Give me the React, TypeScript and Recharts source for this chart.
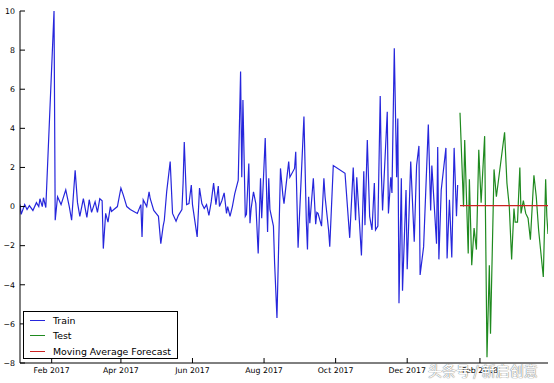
import { LineChart, Line, XAxis, YAxis, Legend } from "recharts";

// days counted from 2017-01-01
const trainDays = [
  4, 5, 8, 10, 12, 15, 18, 20, 21, 23, 24, 26, 33, 34, 36, 39, 43, 46, 48, 51,
  53, 55, 58, 61, 63, 65, 68, 70, 72, 74, 75, 77, 79, 81, 82, 84, 87, 90, 92, 95,
  98, 101, 104, 107, 108, 109, 112, 114, 115, 118, 120, 122, 124, 126, 127, 129,
  132, 134, 137, 139, 142, 143, 144, 146, 148, 150, 151, 155, 157, 159, 161, 163,
  165, 167, 169, 171, 173, 174, 176, 178, 180, 181, 183, 185, 187, 190, 192, 193,
  194, 196, 197, 199, 200, 201, 203, 205, 207, 209, 210, 213, 215, 216, 217, 220,
  221, 223, 226, 228, 229, 233, 234, 238, 239, 241, 246, 248, 249, 250, 251, 254,
  256, 257, 258, 261, 263, 264, 267, 268, 271, 281, 285, 288, 290, 291, 295, 297,
  298, 300, 302, 304, 306, 307, 309, 311, 312, 313, 317, 318, 320, 321, 323, 325,
  326, 327, 329, 330, 333, 334, 337, 340, 342, 344, 345, 348, 352, 354, 355, 359,
  360, 361, 363, 367, 368, 370, 372, 374, 376, 377,
];
const trainValues = [
  0.1, -0.4, 0.1, -0.15, 0.05, -0.2, 0.2, 0.0, 0.4, 0.0, 0.45, -0.05, 10.0, -0.7, 0.5, 0.1, 0.85, 0.0, -0.7, 1.85,
  0.2, -0.5, 0.4, -0.55, 0.35, -0.3, 0.25, -0.3, 0.4, 0.3, -2.15, -0.35, -0.8, 0.0, -0.25, -0.15, 0.0, 0.95, 0.6, 0.0,
  -0.15, -0.25, -0.35, 0.1, -1.55, 0.35, 0.0, 0.75, 0.4, -0.2, -0.35, -0.5, -1.9, -1.0, -0.7, 0.75,
  2.3, -0.35, -0.75, -0.45, -0.15, 1.2, 3.3, 0.1, 0.15, 1.1, 0.1, -1.55, 0.95, 0.15, -0.1, 0.1,
  -0.45, 0.25, 1.2, 0.1, 1.05, 0.0, 0.3, 0.7, -0.35, 0.0, -0.5, 0.0, 0.65, 1.35, 6.9, 1.5,
  5.45, -0.5, -0.4, 2.2, -0.85, -0.1, 0.75, 0.15, -2.4, 1.45, -0.6, 3.5, -1.3, 1.45, -0.15, -1.0,
  -2.9, -5.7, 1.95, 0.6, 0.15, 2.3, 1.5, 1.95, 2.8, -2.1, 4.6, -0.7, -2.2, 0.5, -0.85, 1.45,
  -0.9, -0.3, -0.35, -1.0, 1.45, 0.5, -1.2, -2.05, 2.1, 1.7, -1.6, 2.0, -0.7, 1.5, -2.5, 1.8,
  -0.95, 3.4, -0.5, -1.2, 1.2, -1.2, -1.0, 5.65, 1.7, -0.2, 4.85, -0.35, 1.5, 0.7, 8.1, 1.5,
  4.5, -4.95, 1.45, -4.3, 0.85, -3.2, 2.3, -1.8, 2.1, 3.1, -3.5, -2.05, 4.2, -0.2, 2.1, -1.9,
  3.05, -2.7, 0.85, 3.0, -2.65, 0.35, -2.6, 3.0, -0.5, 1.1,
];

const testDays = [
  379, 382, 383, 386, 387, 389, 391, 393, 395, 397, 400, 402, 404, 405, 408, 410,
  417, 419, 421, 423, 425, 426, 428, 430, 431, 433, 435, 437, 439, 442, 444, 446,
  450, 452, 453, 454,
];
const testValues = [
  4.8, 0.0, 3.4, -2.4, 1.4, -3.0, -1.1, -2.2, 2.9, 0.2, 3.6, -7.7, -3.0, -6.5, 1.9, 0.5,
  3.8, 1.2, 0.0, -2.7, -0.1, -0.8, -0.8, 2.0, -0.35, 0.3, -0.35, -0.6, -1.7, 1.6, 0.5, -1.2,
  -3.6, 1.4, -0.5, -1.4,
];

const forecastValue = 0.05;

const xTicks = [31, 90, 151, 212, 273, 334, 396];
const xTickLabels = ["Feb 2017", "Apr 2017", "Jun 2017", "Aug 2017", "Oct 2017", "Dec 2017", "Feb 2018"];
const yTicks = [-8, -6, -4, -2, 0, 2, 4, 6, 8, 10];

const seriesNames = ["Train", "Test", "Moving Average Forecast"];
const seriesColors = ["#2626dc", "#1f8a1f", "#cc2222"];

const FONT = "'DejaVu Sans', sans-serif";
const X_DOMAIN: [number, number] = [4, 454];

const train = trainDays.map((day, i) => ({ day, value: trainValues[i] }));
const test = testDays.map((day, i) => ({ day, value: testValues[i] }));
const forecast = testDays.map((day) => ({ day, value: forecastValue }));

const tickStyle = { fontFamily: FONT, fontSize: 7.8, fill: "#000" };
const fmtX = (v: number) => xTickLabels[xTicks.indexOf(v)] ?? "";
const fmtY = (v: number) => String(v).replace("-", "\u2212");

function LegendBox() {
  return (
    <div
      style={{
        boxSizing: "border-box",
        width: 155,
        height: 48,
        border: "1px solid #000",
        background: "#fff",
        padding: "1px 0 0 6px",
        fontFamily: FONT,
        fontSize: 9.4,
        color: "#000",
      }}
    >
      {seriesNames.map((name, i) => (
        <div key={name} style={{ display: "flex", alignItems: "center", height: 15.3 }}>
          <span style={{ width: 15, height: 1, background: seriesColors[i], marginRight: 8 }} />
          <span>{name}</span>
        </div>
      ))}
    </div>
  );
}

export default function App() {
  return (
    <div style={{ position: "fixed", left: 0, top: 0, width: 554, height: 383, background: "#fff" }}>
      <LineChart width={554} height={383} margin={{ top: 11, right: 6, bottom: 0, left: 0 }}>
        <XAxis
          type="number"
          dataKey="day"
          domain={X_DOMAIN}
          ticks={xTicks}
          tickFormatter={fmtX}
          allowDataOverflow
          height={20}
          tickSize={-5}
          tickMargin={9}
          tick={tickStyle}
          axisLine={{ stroke: "#000" }}
          tickLine={{ stroke: "#000" }}
          interval={0}
        />
        <XAxis
          xAxisId="top"
          orientation="top"
          type="number"
          domain={X_DOMAIN}
          ticks={xTicks}
          tickFormatter={() => ""}
          allowDataOverflow
          height={0}
          tickSize={-5}
          axisLine={{ stroke: "#000" }}
          tickLine={{ stroke: "#000" }}
          interval={0}
        />
        <YAxis
          type="number"
          domain={[-8, 10]}
          ticks={yTicks}
          tickFormatter={fmtY}
          allowDataOverflow
          width={20}
          tickSize={-5}
          tickMargin={10}
          tick={tickStyle}
          axisLine={{ stroke: "#000" }}
          tickLine={{ stroke: "#000" }}
          interval={0}
        />
        <YAxis
          yAxisId="right"
          orientation="right"
          type="number"
          domain={[-8, 10]}
          ticks={yTicks}
          tickFormatter={() => ""}
          allowDataOverflow
          width={0}
          tickSize={-5}
          axisLine={{ stroke: "#000" }}
          tickLine={{ stroke: "#000" }}
          interval={0}
        />
        <Line data={train} dataKey="value" name={seriesNames[0]} stroke={seriesColors[0]} strokeWidth={1.2} dot={false} activeDot={false} isAnimationActive={false} />
        <Line data={test} dataKey="value" name={seriesNames[1]} stroke={seriesColors[1]} strokeWidth={1.2} dot={false} activeDot={false} isAnimationActive={false} />
        <Line data={forecast} dataKey="value" name={seriesNames[2]} stroke={seriesColors[2]} strokeWidth={1.3} dot={false} activeDot={false} isAnimationActive={false} />
        <Legend
          layout="vertical"
          align="center"
          verticalAlign="middle"
          content={() => <LegendBox />}
          wrapperStyle={{ left: 23, top: 311, width: 155, height: 48 }}
        />
      </LineChart>
      <div
        style={{
          position: "absolute",
          left: 428,
          top: 360,
          fontFamily: "'Noto Sans CJK SC', sans-serif",
          fontSize: 14,
          color: "#fff",
          textShadow: "0 0 1px #777, 0 0 1px #777",
          whiteSpace: "nowrap",
        }}
      >
        头条号 / 新启创意
      </div>
    </div>
  );
}
